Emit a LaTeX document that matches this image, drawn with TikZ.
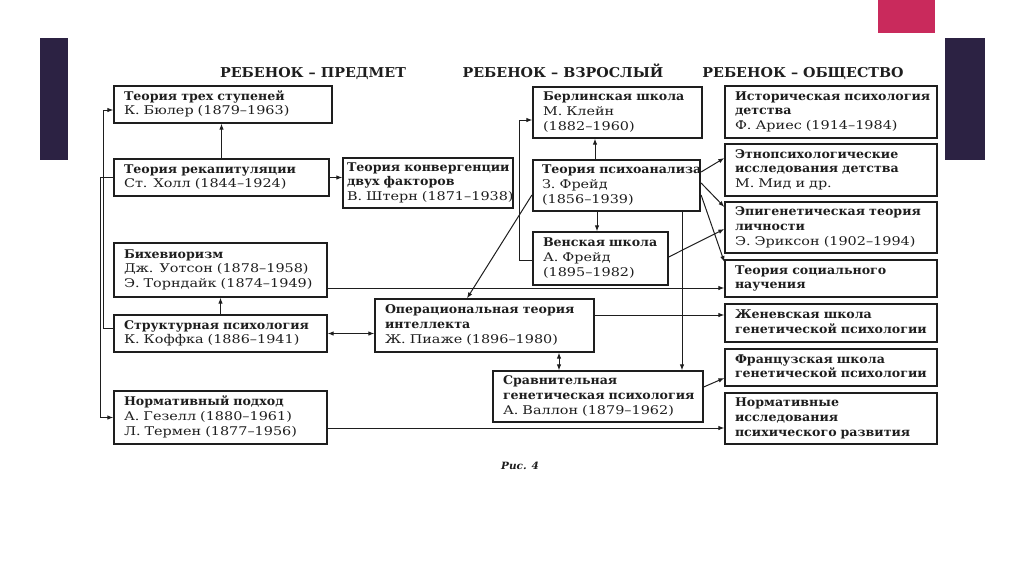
\documentclass[tikz,border=0pt]{standalone}
\usepackage{fontspec}
\setmainfont{DejaVu Serif}[UprightFeatures={FakeStretch=1.2},BoldFeatures={FakeStretch=1.05},BoldItalicFeatures={FakeStretch=1.05}]
\usetikzlibrary{arrows.meta,calc}
\definecolor{barpurple}{HTML}{2C2243}
\definecolor{barpink}{HTML}{C92A5C}
\definecolor{ink}{HTML}{1E1E1E}
\tikzset{
  bx/.style={draw=ink, line width=1.3pt, align=left, inner ysep=1pt,
    font=\fontsize{12}{14.8}\selectfont, text=ink},
  arr/.style={-{Latex[length=6pt,width=4.5pt]}, line width=1pt, draw=ink},
  darr/.style={{Latex[length=6pt,width=4.5pt]}-{Latex[length=6pt,width=4.5pt]}, line width=1pt, draw=ink},
  hdr/.style={font=\bfseries\fontsize{13.6}{15}\selectfont, text=ink, anchor=base},
}
\def\bxsep{10}
\newcommand\mybox[7][]{%
  \pgfmathsetmacro\bw{#5-#3-2*\bxsep}\pgfmathsetmacro\bh{#6-#4}%
  \pgfmathsetmacro\cx{(#3+#5)/2}\pgfmathsetmacro\cy{(#4+#6)/2}%
  \node[bx,inner xsep=\bxsep pt,#1,text width=\bw pt,minimum height=\bh pt] (#2) at (\cx,\cy)
    {\begin{tabular}{@{}l@{}}#7\end{tabular}};}
\begin{document}
\begin{tikzpicture}[x=1pt,y=-1pt]
\useasboundingbox[fill=white] (0,0) rectangle (1024,574);
% slide decorations
\fill[barpurple] (40,38) rectangle (68,160);
\fill[barpurple] (945,38) rectangle (985,160);
\fill[barpink] (878,0) rectangle (935,33);
% headers
\node[hdr] (h1) at (313,77) {РЕБЕНОК – ПРЕДМЕТ};
\node[hdr] (h2) at (563,77) {РЕБЕНОК – ВЗРОСЛЫЙ};
\node[hdr] (h3) at (803,77) {РЕБЕНОК – ОБЩЕСТВО};
% column 1
\mybox{bueler}{114}{86}{332}{123}{\bfseries Теория трех ступеней\\К. Бюлер (1879–1963)}
\mybox{hall}{114}{159}{329}{196}{\bfseries Теория рекапитуляции\\Ст. Холл (1844–1924)}
\mybox{behav}{114}{243}{327}{297}{\bfseries Бихевиоризм\\Дж. Уотсон (1878–1958)\\Э. Торндайк (1874–1949)}
\mybox{koffka}{114}{315}{327}{352}{\bfseries Структурная психология\\К. Коффка (1886–1941)}
\mybox{norm}{114}{391}{327}{444}{\bfseries Нормативный подход\\А. Гезелл (1880–1961)\\Л. Термен (1877–1956)}
\def\bxsep{4}
\mybox{stern}{343}{158}{513}{208}{\bfseries Теория конвергенции\\\bfseries двух факторов\\В. Штерн (1871–1938)}
\def\bxsep{10}
% column 2
\mybox{berlin}{533}{87}{702}{138}{\bfseries Берлинская школа\\М. Клейн\\(1882–1960)}
\def\bxsep{9}
\mybox[line width=2.2pt]{psy}{533}{160}{700}{211}{\bfseries Теория психоанализа\\З. Фрейд\\(1856–1939)}
\def\bxsep{10}
\mybox{vienna}{533}{232}{668}{285}{\bfseries Венская школа\\А. Фрейд\\(1895–1982)}
\mybox{piaget}{375}{299}{594}{352}{\bfseries Операциональная теория\\\bfseries интеллекта\\Ж. Пиаже (1896–1980)}
\mybox{wallon}{493}{371}{703}{422}{\bfseries Сравнительная\\\bfseries генетическая психология\\А. Валлон (1879–1962)}
% column 3
\mybox{hist}{725}{86}{937}{138}{\bfseries Историческая психология\\\bfseries детства\\Ф. Ариес (1914–1984)}
\mybox{ethno}{725}{144}{937}{196}{\bfseries Этнопсихологические\\\bfseries исследования детства\\М. Мид и др.}
\mybox{epi}{725}{202}{937}{253}{\bfseries Эпигенетическая теория\\\bfseries личности\\Э. Эриксон (1902–1994)}
\mybox{social}{725}{260}{937}{297}{\bfseries Теория социального\\\bfseries научения}
\mybox{geneva}{725}{304}{937}{342}{\bfseries Женевская школа\\\bfseries генетической психологии}
\mybox{french}{725}{349}{937}{386}{\bfseries Французская школа\\\bfseries генетической психологии}
\mybox{normres}{725}{393}{937}{444}{\bfseries Нормативные\\\bfseries исследования\\\bfseries психического развития}
% connectors, column 1
\draw[arr] (hall.north) -- (hall.north |- bueler.south);
\draw[arr] (koffka.north) -- (koffka.north |- behav.south);
\draw[arr] ([yshift=5pt]koffka.west) -- ++(-10,0) |- ([yshift=-5.5pt]bueler.west);
\draw[arr] (hall.west) -- ++(-13,0) |- (norm.west);
\draw[arr] (hall.east) -- (hall.east -| stern.west);
\draw[arr] ([yshift=-18pt]behav.east) -- ([yshift=-18pt]behav.east -| social.west);
\draw[darr] (koffka.east) -- (koffka.east -| piaget.west);
\draw[arr] ([yshift=-10.5pt]norm.east) -- ([yshift=-10.5pt]norm.east -| normres.west);
% column 2
\draw[arr] ([xshift=-21.5pt]psy.north) -- ([xshift=-21.5pt]psy.north |- berlin.south);
\draw[arr] ([xshift=-19.5pt]psy.south) -- ([xshift=-19.5pt]psy.south |- vienna.north);
\draw[arr] ([yshift=-1.5pt]vienna.west) -- ++(-13,0) |- ([yshift=-7.5pt]berlin.west);
\draw[arr] ([yshift=-9.5pt]psy.west) -- ([xshift=-17.5pt]piaget.north);
\draw[arr] ([xshift=65.5pt]psy.south) -- ([xshift=65.5pt]psy.south |- wallon.north);
\draw[darr] ([xshift=74.5pt]piaget.south) -- ([xshift=74.5pt]piaget.south |- wallon.north);
\draw[arr] ([yshift=10.5pt]piaget.east) -- ([yshift=10.5pt]piaget.east -| geneva.west);
\draw[arr] ([yshift=9.5pt]wallon.east) -- ([yshift=-10.5pt]french.west);
% psychoanalysis fan
\draw[arr] ([yshift=13.5pt]psy.east) -- ([yshift=12pt]ethno.west);
\draw[arr] ([yshift=2.5pt]psy.east) -- ([yshift=20.5pt]epi.west);
\draw[arr] ([yshift=-9.5pt]psy.east) -- ([yshift=16.5pt]social.west);
\draw[arr] ([yshift=1.5pt]vienna.east) -- ([yshift=-1.5pt]epi.west);
% caption
\node[font=\bfseries\itshape\fontsize{10}{12}\selectfont, text=ink] (cap) at (520,466) {Рис. 4};
\end{tikzpicture}
\end{document}
